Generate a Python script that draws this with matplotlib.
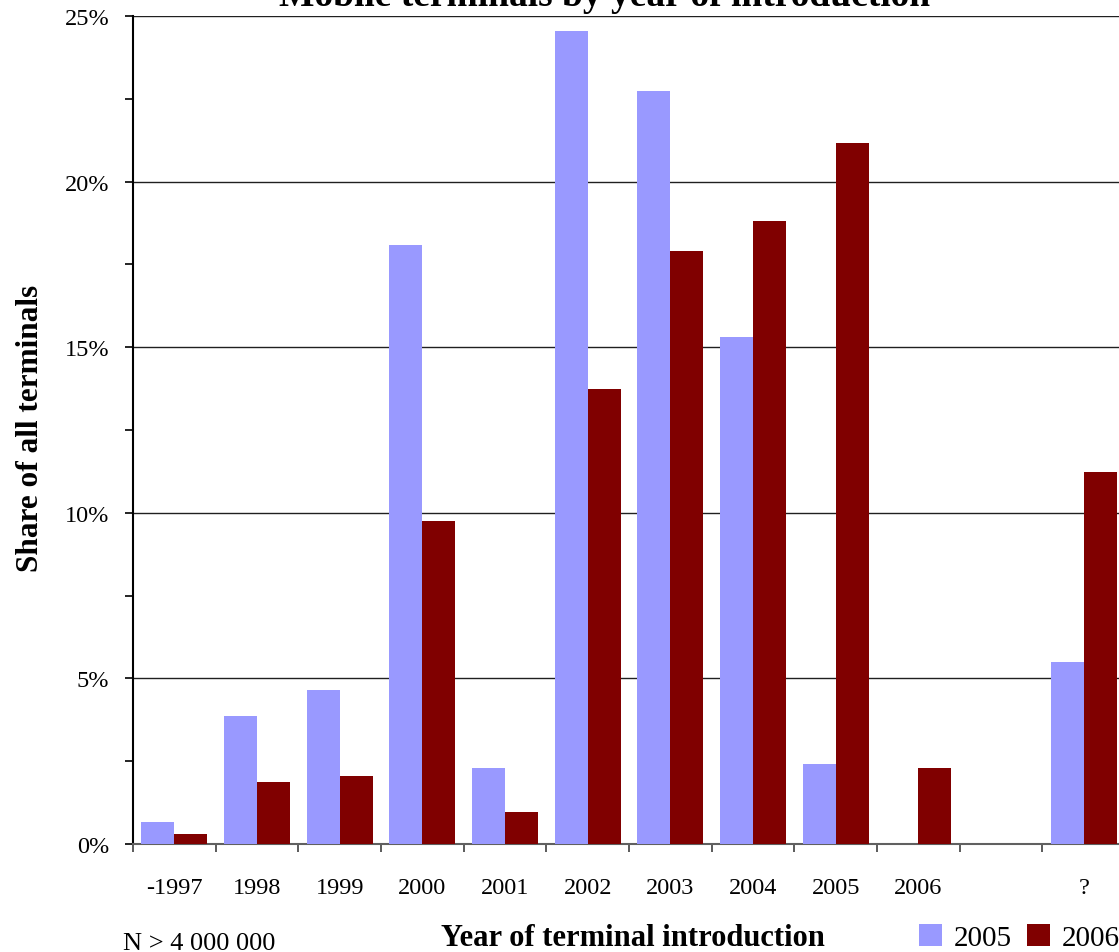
import matplotlib.pyplot as plt
import numpy as np

plt.rcParams['font.family'] = ['Liberation Serif', 'DejaVu Serif']

# Share of all terminals (%), by year the handset model was introduced
categories = ['-1997', '1998', '1999', '2000', '2001', '2002', '2003',
              '2004', '2005', '2006', '', '?']
share_2005 = [0.66, 3.86, 4.65, 18.09, 2.29, 24.55, 22.74, 15.31, 2.42, 0.0, 0.0, 5.50]
share_2006 = [0.30, 1.87, 2.05, 9.75, 0.97, 13.74, 17.90, 18.81, 21.17, 2.29, 0.0, 11.23]
series_labels = ['2005', '2006']

W, H = 1119, 953
fig = plt.figure(figsize=(W / 100, H / 100), dpi=100)
ax = fig.add_axes([133 / W, 108 / H, 992 / W, 828 / H])

x = np.arange(len(categories))
width = 0.4
b1 = ax.bar(x - width / 2, share_2005, width, color='#9999FF', label=series_labels[0], zorder=3)
b2 = ax.bar(x + width / 2, share_2006, width, color='#800000', label=series_labels[1], zorder=3)

ax.set_xlim(-0.5, len(categories) - 0.5)
ax.set_ylim(0, 25)

# y axis: major every 5 %, minor marks in between
ax.set_yticks(np.arange(0, 26, 5))
ax.set_yticklabels([f'{v}%' for v in range(0, 26, 5)], fontsize=17.5)
ax.set_yticks(np.arange(2.5, 25, 5), minor=True)
ax.yaxis.grid(True, which='major', color='#202020', linewidth=1.0, zorder=0)
ax.tick_params(axis='y', which='both', direction='out', length=6, width=1.2, pad=11)

# x axis: ticks sit on the category boundaries, labels in the middle
ax.set_xticks(np.arange(-0.5, len(categories) - 0.5, 1))
ax.set_xticklabels([])
ax.set_xticks(x, minor=True)
ax.set_xticklabels(categories, minor=True, fontsize=17.5)
ax.tick_params(axis='x', which='major', direction='out', length=6, width=1.2, color='#404040')
ax.tick_params(axis='x', which='minor', length=0, pad=24)

for side in ['top', 'right']:
    ax.spines[side].set_visible(False)
ax.spines['left'].set_linewidth(1.5)
ax.spines['bottom'].set_color('#606060')
ax.spines['bottom'].set_linewidth(1.5)

fig.text(605 / W, 1 - 6 / H, 'Mobile terminals by year of introduction',
         ha='center', va='baseline', fontsize=27, fontweight='bold')
fig.text(31 / W, 1 - 428 / H, 'Share of all terminals', rotation=90,
         ha='center', va='center', fontsize=22.5, fontweight='bold')
fig.text(633 / W, 1 - 939 / H, 'Year of terminal introduction',
         ha='center', va='center', fontsize=22, fontweight='bold')
fig.text(123 / W, 1 - 944 / H, 'N > 4 000 000', ha='left', va='center', fontsize=19)

fig.legend(handles=[b1, b2], loc='lower left', bbox_to_anchor=(919 / W, 1 / H),
           ncol=2, frameon=False, fontsize=21, borderpad=0, borderaxespad=0,
           handlelength=0.8, handleheight=0.8, handletextpad=0.4, columnspacing=0.5)

fig.savefig('out.png', dpi=100)
